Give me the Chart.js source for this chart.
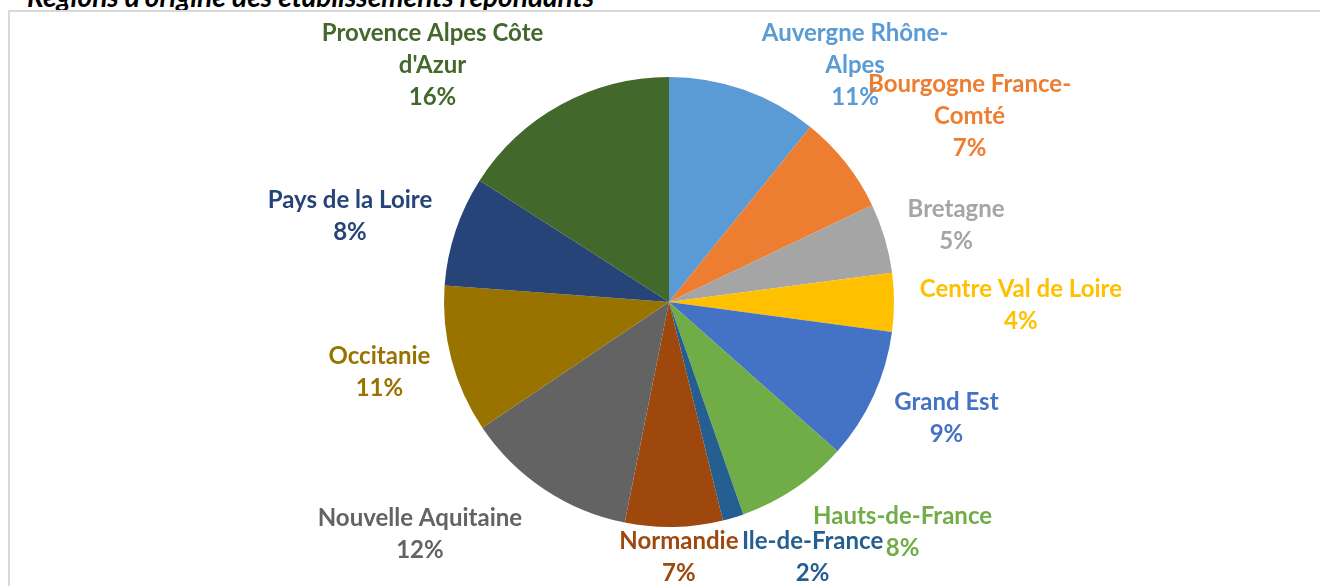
<!DOCTYPE html>
<html lang="fr">
<head>
    <meta charset="UTF-8" />
    <meta name="viewport" content="width=device-width, initial-scale=1.0" />
    <title>Régions d'origine des établissements répondants</title>
    <style>
        html, body { margin: 0; padding: 0; background: #fff; overflow: hidden; }
        #title {
            position: absolute; left: 27px; top: -18px;
            font: italic bold 28px Lato, "Noto Sans", sans-serif;
            color: #000; white-space: nowrap; line-height: 1;
        }
        #frame {
            position: absolute; left: 8px; top: 10px; width: 1400px; height: 700px;
            border-left: 2px solid #d9d9d9; border-top: 2px solid #d9d9d9;
        }
        #wrap { position: absolute; left: 0; top: 0; width: 1320px; height: 586px; }
    </style>
</head>
<body>
    <div id="title">Régions d'origine des établissements répondants</div>
    <div id="frame"></div>
    <div id="wrap"><canvas id="myChart"></canvas></div>

    <script src="https://cdn.jsdelivr.net/npm/chart.js@4"></script>
    <script>
        // Data (share of responding establishments, %)
        const regions = [
            ["Auvergne Rhône-", "Alpes"],
            ["Bourgogne France-", "Comté"],
            ["Bretagne"],
            ["Centre Val de Loire"],
            ["Grand Est"],
            ["Hauts-de-France"],
            ["Ile-de-France"],
            ["Normandie"],
            ["Nouvelle Aquitaine"],
            ["Occitanie"],
            ["Pays de la Loire"],
            ["Provence Alpes Côte", "d'Azur"]
        ];
        const shares = [10.8, 7.1, 5.0, 4.2, 9.4, 8.1, 1.5, 7.0, 12.4, 10.6, 7.9, 15.9];
        const colors = [
            "#5B9BD5", "#ED7D31", "#A5A5A5", "#FFC000", "#4472C4", "#70AD47",
            "#255E91", "#9E480E", "#636363", "#997300", "#264478", "#43682B"
        ];

        // Label anchors, as multiples of the pie radius from its centre
        const labelOffsets = [
            [0.827, -1.053], [1.336, -0.827], [1.276, -0.342], [1.564, 0.013],
            [1.233, 0.516], [1.038, 1.024], [0.638, 1.133], [0.044, 1.133],
            [-1.107, 1.031], [-1.287, 0.311], [-1.418, -0.382], [-1.051, -1.053]
        ];

        // Draw the category name + percentage next to each slice
        const sliceLabels = {
            id: "sliceLabels",
            afterDatasetsDraw(chart) {
                const ctx = chart.ctx;
                const meta = chart.getDatasetMeta(0);
                const total = shares.reduce((a, b) => a + b, 0);
                const lineH = 32;
                ctx.save();
                ctx.font = "bold 24px Lato, 'Noto Sans', sans-serif";
                ctx.textAlign = "center";
                ctx.textBaseline = "middle";
                meta.data.forEach((arc, i) => {
                    const r = arc.outerRadius;
                    const cx = arc.x + labelOffsets[i][0] * r;
                    const cy = arc.y + labelOffsets[i][1] * r;
                    const lines = [...regions[i], Math.round(shares[i] / total * 100) + "%"];
                    const top = cy - (lines.length - 1) * lineH / 2;
                    ctx.fillStyle = colors[i];
                    lines.forEach((t, k) => ctx.fillText(t, cx, top + k * lineH));
                });
                ctx.restore();
            }
        };

        new Chart(document.getElementById("myChart"), {
            type: "pie",
            data: {
                labels: regions,
                datasets: [{
                    data: shares,
                    backgroundColor: colors,
                    borderWidth: 0
                }]
            },
            options: {
                responsive: true,
                maintainAspectRatio: false,
                animation: false,
                layout: { padding: { top: 77, bottom: 59, left: 200, right: 182 } },
                plugins: {
                    legend: { display: false },
                    tooltip: { enabled: false },
                    title: { display: false }
                }
            },
            plugins: [sliceLabels]
        });
    </script>
</body>
</html>
